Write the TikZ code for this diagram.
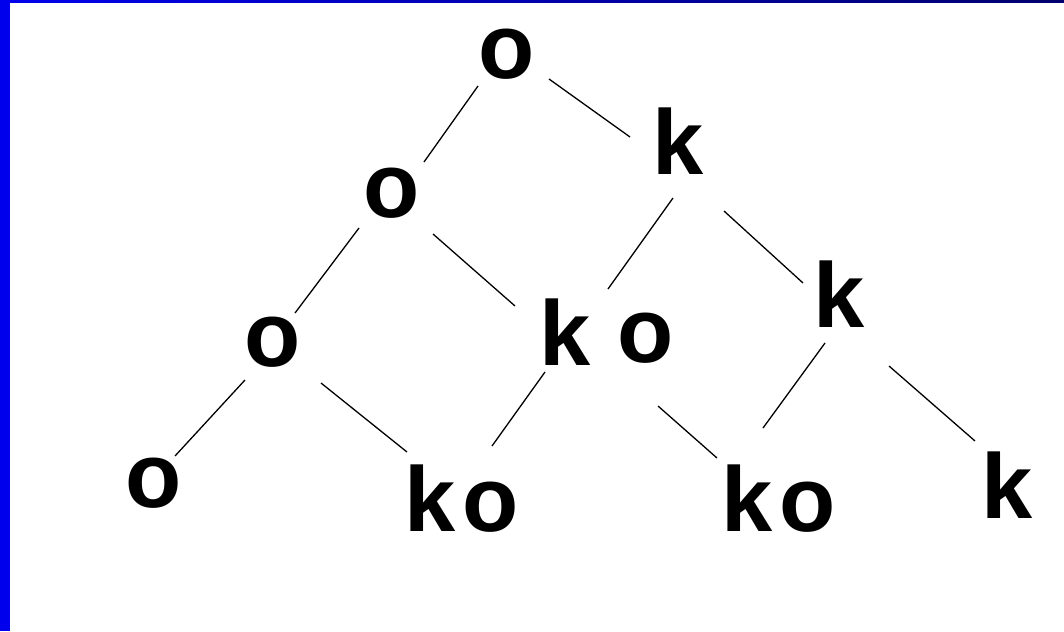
\documentclass[tikz,border=0pt]{standalone}
\usepackage{fontspec}
\setmainfont{Liberation Sans}
\usetikzlibrary{calc}
\definecolor{barblue}{RGB}{0,0,236}
\definecolor{barnavy}{RGB}{0,0,110}
\tikzset{
  letter/.style={inner sep=0pt, outer sep=0pt, font=\fontsize{92}{92}\bfseries\selectfont},
  edge/.style={draw=black, line width=1.3pt}
}
\begin{document}
\begin{tikzpicture}[x=1pt,y=-1pt]
\useasboundingbox (0,0) rectangle (1064,631);
\fill[white] (0,0) rectangle (1064,631);
\shade[left color=barblue, right color=barnavy] (0,0) rectangle (1064,3);
\fill[barblue] (0,0) rectangle (10,631);

\node[letter] (o1) at (507,54) {o};
\node[letter] (k1) at (678,141.5) {k};
\node[letter] (o2) at (391.5,193) {o};
\node[letter] (k2) at (839.5,294) {k};
\node[letter] (k3) at (565,332.5) {k};
\node[letter] (om) at (646,338) {o};
\node[letter] (o3) at (272.5,342) {o};
\node[letter] (o4) at (153.5,483.5) {o};
\node[letter] (ko1) at (461.5,498.5) {k\kern7pt o};
\node[letter] (ko2) at (778.5,498.5) {k\kern7pt o};
\node[letter] (k4) at (1007.5,485) {k};

\draw[edge] ($(o1)+(-29,32)$) -- ($(o2)+(32.5,-31)$);
\draw[edge] ($(o1)+(42,25)$) -- ($(k1)+(-48,-4.5)$);
\draw[edge] ($(k1)+(-5,56.5)$) -- ($(k3)+(43,-43.5)$);
\draw[edge] ($(k1)+(46,69.5)$) -- ($(k2)+(-36.5,-11)$);
\draw[edge] ($(o2)+(-32.5,35)$) -- ($(o3)+(22.5,-29)$);
\draw[edge] ($(o2)+(41.5,41)$) -- ($(k3)+(-50,-26.5)$);
\draw[edge] ($(o3)+(-27.5,38)$) -- ($(o4)+(21.5,-27.5)$);
\draw[edge] ($(o3)+(48.5,41)$) -- ($(ko1)+(-54.5,-46.5)$);
\draw[edge] ($(k3)+(-20,39.5)$) -- ($(ko1)+(30.5,-52.5)$);
\draw[edge] ($(om)+(12,68)$) -- ($(ko2)+(-61.5,-40.5)$);
\draw[edge] ($(k2)+(-14.5,49)$) -- ($(ko2)+(-15.5,-70.5)$);
\draw[edge] ($(k2)+(49.5,72)$) -- ($(k4)+(-32.5,-44)$);
\end{tikzpicture}
\end{document}
